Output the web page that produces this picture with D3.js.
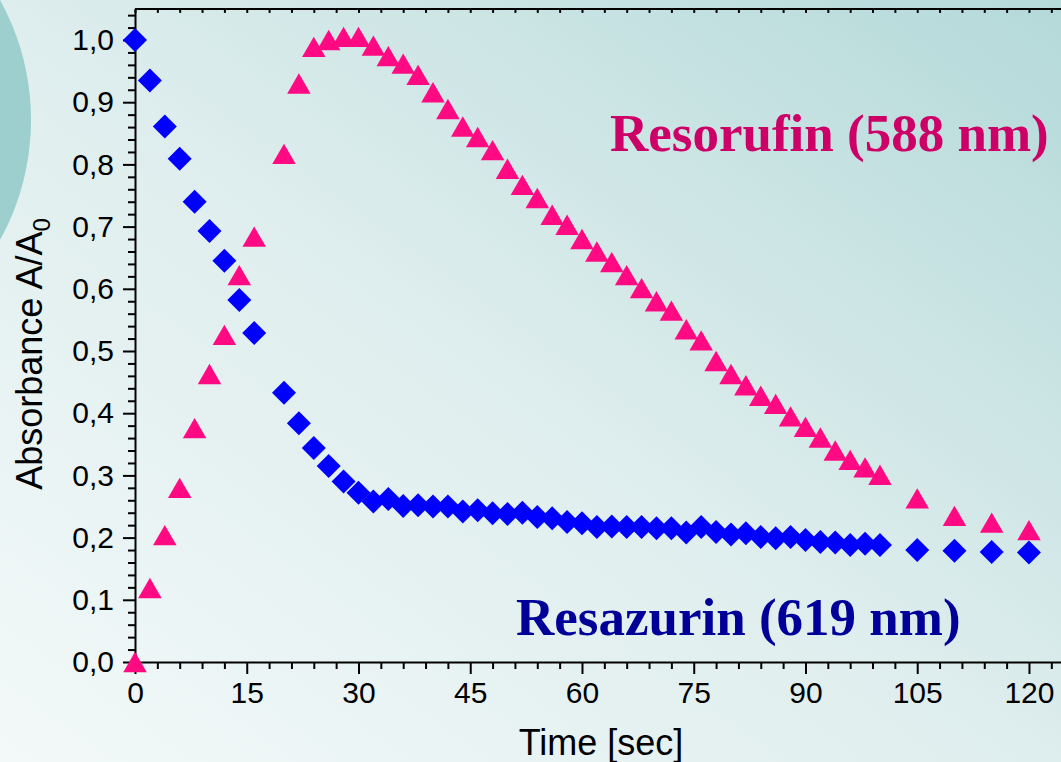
<!DOCTYPE html>
<html>
<head>
<meta charset="utf-8">
<script src="https://cdn.jsdelivr.net/npm/d3@7"></script>
<style>
  html, body { margin: 0; padding: 0; overflow: hidden; }
  svg { display: block; }
</style>
</head>
<body>
<div id="chart"></div>
<script>
// time points (sec)
var times = [0, 2, 4, 6, 8, 10, 12, 14, 16,
  20, 22, 24, 26, 28, 30, 32, 34, 36, 38, 40, 42, 44, 46, 48, 50,
  52, 54, 56, 58, 60, 62, 64, 66, 68, 70, 72, 74, 76, 78, 80,
  82, 84, 86, 88, 90, 92, 94, 96, 98, 100,
  105, 110, 115, 120];

// resazurin, 619 nm (blue diamonds)
var resazurin = [1.000, 0.935, 0.861, 0.809, 0.740, 0.693, 0.645, 0.582, 0.529,
  0.433, 0.384, 0.344, 0.315, 0.290, 0.272, 0.258, 0.262, 0.251, 0.252, 0.250,
  0.250, 0.242, 0.244, 0.239, 0.238, 0.240, 0.233, 0.231, 0.225, 0.223,
  0.217, 0.218, 0.217, 0.217, 0.215, 0.215, 0.208, 0.217, 0.209, 0.205,
  0.207, 0.201, 0.199, 0.201, 0.196, 0.193, 0.192, 0.188, 0.190, 0.188,
  0.180, 0.179, 0.177, 0.176];

// resorufin, 588 nm (pink triangles)
var resorufin = [0.000, 0.119, 0.204, 0.280, 0.376, 0.463, 0.526, 0.622, 0.684,
  0.817, 0.930, 0.989, 1.000, 1.005, 1.005, 0.991, 0.974, 0.962, 0.944, 0.916,
  0.889, 0.861, 0.844, 0.823, 0.793, 0.767, 0.746, 0.719, 0.703, 0.680,
  0.660, 0.643, 0.622, 0.601, 0.580, 0.565, 0.535, 0.517, 0.484, 0.463,
  0.445, 0.428, 0.415, 0.395, 0.378, 0.361, 0.340, 0.325, 0.313, 0.301,
  0.263, 0.235, 0.224, 0.212];

var xTicks = [0, 15, 30, 45, 60, 75, 90, 105, 120];
var yTicks = [0, 0.1, 0.2, 0.3, 0.4, 0.5, 0.6, 0.7, 0.8, 0.9, 1.0];

var W = 1061, H = 762;

var svg = d3.select("#chart").append("svg")
    .attr("width", W)
    .attr("height", H);

// background
var defs = svg.append("defs");
var grad = defs.append("linearGradient")
    .attr("id", "bg")
    .attr("x1", 0).attr("y1", 1).attr("x2", 1).attr("y2", 0);
grad.append("stop").attr("offset", "0%").attr("stop-color", "#f3f9f9");
grad.append("stop").attr("offset", "50%").attr("stop-color", "#deeded");
grad.append("stop").attr("offset", "100%").attr("stop-color", "#b4d9d9");

svg.append("rect").attr("width", W).attr("height", H).attr("fill", "url(#bg)");
svg.append("circle")
    .attr("cx", -217).attr("cy", 120).attr("r", 248)
    .attr("fill", "#9dcfcf");

var x = d3.scaleLinear().domain([0, 124.3]).range([135, 1061]);
var y = d3.scaleLinear().domain([0, 1.05]).range([662, 662 - 1.05 * 622]);

var comma = d3.formatLocale({decimal: ",", thousands: ".", grouping: [3], currency: ["", ""]});
var fmtY = comma.format(".1f");

var g = svg.append("g");

// minor ticks
var xMinor = d3.range(0, 124.3, 3).filter(function (d) { return d % 15 !== 0; });
var yMinor = d3.range(0, 1.051, 0.02).filter(function (d) {
  return Math.abs(d * 10 - Math.round(d * 10)) > 1e-6;
});

g.append("g")
    .attr("transform", "translate(0," + y(0) + ")")
    .call(d3.axisBottom(x).tickValues(xMinor).tickSize(7).tickFormat(""))
    .call(function (s) { s.select(".domain").remove(); });
g.append("g")
    .attr("transform", "translate(" + x(0) + ",0)")
    .call(d3.axisLeft(y).tickValues(yMinor).tickSize(7).tickFormat(""))
    .call(function (s) { s.select(".domain").remove(); });
// top frame ticks
g.append("g")
    .attr("transform", "translate(0," + y(1.05) + ")")
    .call(d3.axisBottom(x).tickValues(d3.range(0, 124.3, 3)).tickSize(4).tickFormat(""))
    .call(function (s) { s.select(".domain").remove(); });

g.append("g")
    .attr("transform", "translate(0," + y(0) + ")")
    .call(d3.axisBottom(x).tickValues(xTicks).tickSize(12).tickPadding(8).tickSizeOuter(0));
g.append("g")
    .attr("transform", "translate(" + x(0) + ",0)")
    .call(d3.axisLeft(y).tickValues(yTicks).tickSize(12).tickPadding(9).tickFormat(fmtY).tickSizeOuter(0));

g.append("line")
    .attr("x1", x(0)).attr("x2", W)
    .attr("y1", y(1.05)).attr("y2", y(1.05))
    .attr("stroke", "#000").attr("stroke-width", 2);

g.selectAll(".domain").attr("stroke-width", 2);
g.selectAll(".tick line").attr("stroke-width", 2);
g.selectAll(".tick text")
    .style("font-family", "'Liberation Sans', Arial, sans-serif")
    .style("font-size", "30px")
    .attr("fill", "#000");

// axis titles
svg.append("text")
    .attr("x", 601).attr("y", 755)
    .attr("text-anchor", "middle")
    .style("font-family", "'Liberation Sans', Arial, sans-serif")
    .style("font-size", "36px")
    .text("Time [sec]");

var yt = svg.append("text")
    .attr("transform", "translate(42,354) rotate(-90)")
    .attr("text-anchor", "middle")
    .style("font-family", "'Liberation Sans', Arial, sans-serif")
    .style("font-size", "36px");
yt.append("tspan").text("Absorbance A/A");
yt.append("tspan").attr("dy", 8).style("font-size", "24px").text("0");

// custom marker shapes centred on their bounding box
var diamond = {
  draw: function (ctx, size) {
    var r = Math.sqrt(size) / 2;
    ctx.moveTo(0, -r); ctx.lineTo(r, 0); ctx.lineTo(0, r); ctx.lineTo(-r, 0); ctx.closePath();
  }
};
var triangle = {
  draw: function (ctx, size) {
    var w = Math.sqrt(size), h = w * 0.866;
    ctx.moveTo(0, -h / 2); ctx.lineTo(w / 2, h / 2); ctx.lineTo(-w / 2, h / 2); ctx.closePath();
  }
};

var pts = times.map(function (t, i) { return {t: t, a: resazurin[i], b: resorufin[i]}; });

svg.append("g").selectAll("path")
    .data(pts)
    .enter().append("path")
    .attr("transform", function (d) { return "translate(" + x(d.t) + "," + y(d.b) + ")"; })
    .attr("d", d3.symbol().type(triangle).size(23.5 * 23.5))
    .attr("fill", "#ff0a82");

svg.append("g").selectAll("path")
    .data(pts)
    .enter().append("path")
    .attr("transform", function (d) { return "translate(" + x(d.t) + "," + y(d.a) + ")"; })
    .attr("d", d3.symbol().type(diamond).size(24 * 24))
    .attr("fill", "#0000ff");

// labels
svg.append("text")
    .attr("x", 610).attr("y", 151)
    .style("font-family", "'Liberation Serif', 'Times New Roman', serif")
    .style("font-weight", "bold")
    .style("font-size", "53px")
    .attr("fill", "#cc0066")
    .text("Resorufin (588 nm)");

svg.append("text")
    .attr("x", 516).attr("y", 635)
    .style("font-family", "'Liberation Serif', 'Times New Roman', serif")
    .style("font-weight", "bold")
    .style("font-size", "53px")
    .attr("fill", "#000099")
    .text("Resazurin (619 nm)");
</script>
</body>
</html>
